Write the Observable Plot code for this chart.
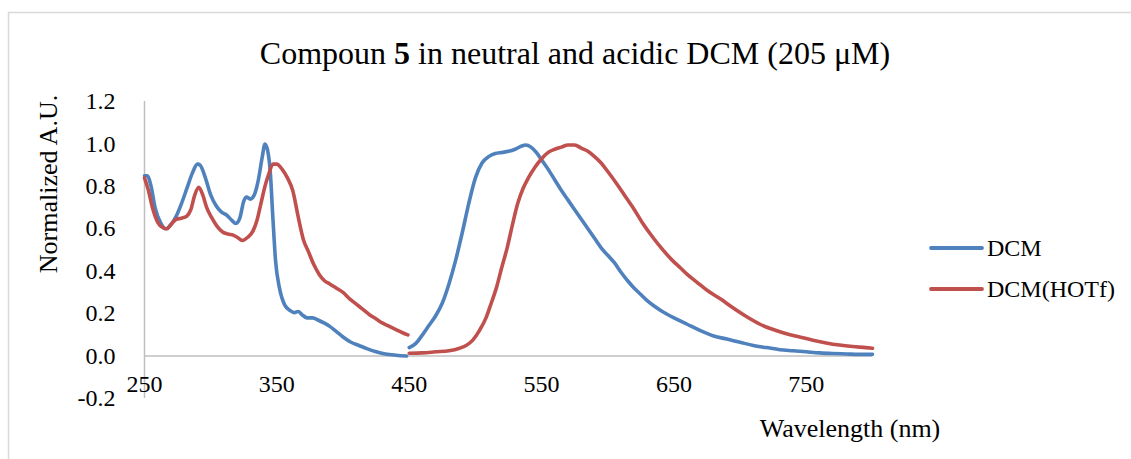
<!DOCTYPE html>
<html>
<head>
<meta charset="utf-8">
<script src="https://cdn.jsdelivr.net/npm/d3@7"></script>
<script src="https://cdn.jsdelivr.net/npm/@observablehq/plot@0.6"></script>
<style>
  html, body { margin: 0; padding: 0; background: #ffffff; }
  #chart { position: relative; width: 1131px; height: 459px; overflow: hidden; }
  svg { display: block; }
</style>
</head>
<body>
<div id="chart"></div>
<script>
const titleMain = "Compoun ";
const titleBold = "5";
const titleRest = " in neutral and acidic DCM (205 μM)";
const yLabel = "Normalized A.U.";
const xLabel = "Wavelength (nm)";
const seriesNames = ["DCM", "DCM(HOTf)"];
const seriesColors = ["#4F81BD", "#C0504D"];
const xTicks = [250, 350, 450, 550, 650, 750];
const yTicks = [-0.2, 0, 0.2, 0.4, 0.6, 0.8, 1.0, 1.2];

// DCM absorption (250-448 nm)
const dcmAbsNm = [250,252,255,258,262,266,270,274,278,282,286,290,292,296,300,304,308,312,316,319,322,325,327,330,333,336,339,341,343,345,347,349,352,356,360,363,366,369,373,377,381,386,390,395,400,406,412,418,425,432,440,448];
const dcmAbsVal = [0.85,0.85,0.80,0.70,0.63,0.60,0.62,0.66,0.72,0.79,0.86,0.905,0.90,0.84,0.76,0.71,0.68,0.665,0.64,0.625,0.65,0.73,0.75,0.74,0.76,0.83,0.94,1.00,0.97,0.87,0.65,0.45,0.32,0.24,0.215,0.205,0.21,0.195,0.18,0.18,0.17,0.155,0.14,0.115,0.09,0.065,0.05,0.035,0.02,0.01,0.004,0.0];
// DCM emission (450-800 nm)
const dcmEmNm = [450,455,460,465,470,475,480,485,490,495,500,505,510,515,520,525,530,535,538,542,546,550,555,560,565,570,575,580,585,590,595,600,605,610,615,620,625,630,640,650,660,670,680,690,700,710,720,730,740,750,760,770,780,790,800];
const dcmEmVal = [0.04,0.06,0.10,0.145,0.19,0.25,0.34,0.45,0.58,0.72,0.84,0.91,0.94,0.955,0.96,0.965,0.975,0.99,0.995,0.985,0.96,0.925,0.88,0.83,0.78,0.735,0.69,0.645,0.60,0.555,0.51,0.475,0.44,0.395,0.355,0.32,0.29,0.26,0.215,0.18,0.15,0.12,0.095,0.08,0.065,0.05,0.04,0.03,0.025,0.02,0.015,0.012,0.01,0.008,0.008];
// DCM(HOTf) absorption (250-449 nm)
const hotfAbsNm = [250,253,256,260,264,267,270,274,278,282,285,288,291,294,297,301,305,309,313,317,320,324,328,332,335,338,341,344,347,350,354,358,362,366,370,374,378,382,386,390,395,400,405,410,415,420,425,430,435,440,445,449];
const hotfAbsVal = [0.84,0.78,0.70,0.63,0.605,0.60,0.62,0.645,0.65,0.66,0.69,0.76,0.795,0.76,0.70,0.65,0.61,0.585,0.575,0.57,0.56,0.545,0.56,0.59,0.64,0.72,0.80,0.86,0.905,0.905,0.88,0.84,0.78,0.66,0.55,0.49,0.43,0.385,0.355,0.34,0.32,0.30,0.27,0.245,0.22,0.195,0.175,0.155,0.14,0.125,0.11,0.10];
// DCM(HOTf) emission (450-800 nm)
const hotfEmNm = [450,460,470,480,488,493,498,503,508,512,516,520,524,528,532,536,540,545,550,555,560,565,570,575,580,585,590,595,600,607,613,619,626,634,641,649,655,660,667,675,685,694,705,715,725,735,745,755,765,775,785,795,800];
const hotfEmVal = [0.013,0.015,0.02,0.025,0.037,0.05,0.075,0.12,0.18,0.25,0.325,0.42,0.51,0.62,0.72,0.79,0.84,0.89,0.93,0.96,0.975,0.985,0.995,0.995,0.98,0.965,0.94,0.91,0.87,0.81,0.755,0.70,0.63,0.56,0.505,0.45,0.415,0.385,0.35,0.31,0.27,0.23,0.185,0.15,0.125,0.105,0.09,0.075,0.062,0.052,0.045,0.04,0.037];

function seg(series, part, nm, val) {
  return nm.map((x, i) => ({series, part, key: series + "-" + part, x, y: val[i]}));
}
const rows = [
  ...seg(seriesNames[0], "abs", dcmAbsNm, dcmAbsVal),
  ...seg(seriesNames[0], "em", dcmEmNm, dcmEmVal),
  ...seg(seriesNames[1], "abs", hotfAbsNm, hotfAbsVal),
  ...seg(seriesNames[1], "em", hotfEmNm, hotfEmVal)
];

const font = "'Liberation Serif', 'Times New Roman', serif";
const axisGray = "#BFBFBF";

const plot = Plot.plot({
  width: 1131,
  height: 459,
  marginLeft: 144,
  marginRight: 259,
  marginTop: 101,
  marginBottom: 61,
  style: {fontFamily: font, background: "transparent", overflow: "visible"},
  x: {domain: [250, 800], axis: null},
  y: {domain: [-0.2, 1.2], axis: null},
  color: {domain: seriesNames, range: seriesColors},
  marks: [
    Plot.ruleX([250], {y1: -0.2, y2: 1.2, stroke: axisGray, strokeWidth: 1.5}),
    Plot.ruleY([0], {x1: 250, x2: 800, stroke: axisGray, strokeWidth: 1.5}),
    Plot.text(yTicks, {x: 250, y: d => d, text: d => d.toFixed(1), textAnchor: "end", dx: -29, fontSize: 24, fill: "#000"}),
    Plot.text(xTicks, {x: d => d, y: 0, dy: 28, text: d => String(d), fontSize: 24, fill: "#000"}),
    Plot.line(rows, {x: "x", y: "y", z: "key", stroke: "series", strokeWidth: 3.6, curve: "monotone-x", strokeLinejoin: "round", strokeLinecap: "round"})
  ]
});

document.getElementById("chart").appendChild(plot);
const svg = d3.select(plot);

// chart border (partially visible)
svg.insert("rect", ":first-child")
  .attr("x", 8.5).attr("y", 12.5).attr("width", 1200).attr("height", 500)
  .attr("fill", "none").attr("stroke", "#D9D9D9").attr("stroke-width", 1.5);

// title
const t = svg.append("text")
  .attr("x", 575).attr("y", 64)
  .attr("text-anchor", "middle")
  .attr("font-family", font).attr("font-size", 32).attr("fill", "#000");
t.append("tspan").text(titleMain);
t.append("tspan").attr("font-weight", "bold").text(titleBold);
t.append("tspan").text(titleRest);

// axis titles
svg.append("text")
  .attr("transform", "translate(57,184) rotate(-90)")
  .attr("text-anchor", "middle")
  .attr("font-family", font).attr("font-size", 26).attr("fill", "#000")
  .text(yLabel);
svg.append("text")
  .attr("x", 850).attr("y", 437)
  .attr("text-anchor", "middle")
  .attr("font-family", font).attr("font-size", 26).attr("fill", "#000")
  .text(xLabel);

// legend
const legendY = [248, 289];
seriesNames.forEach((name, i) => {
  svg.append("line")
    .attr("x1", 931).attr("x2", 982).attr("y1", legendY[i]).attr("y2", legendY[i])
    .attr("stroke", seriesColors[i]).attr("stroke-width", 3.8).attr("stroke-linecap", "round");
  svg.append("text")
    .attr("x", 987).attr("y", legendY[i]).attr("dy", "0.35em")
    .attr("text-anchor", "start")
    .attr("font-family", font).attr("font-size", 24).attr("fill", "#000")
    .text(name);
});
</script>
</body>
</html>
